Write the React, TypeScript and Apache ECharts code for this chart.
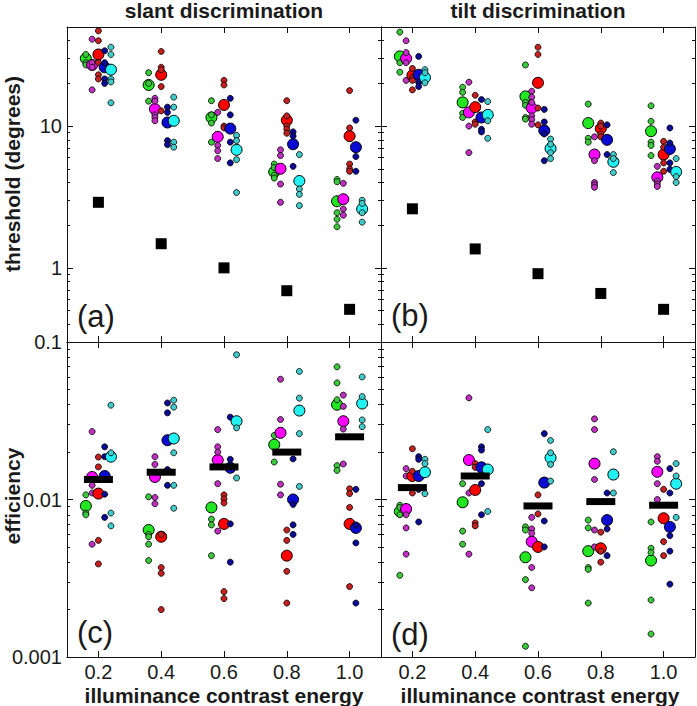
import React, { useEffect, useRef } from "react";
import * as echarts from "echarts";

// ---------- data ----------
const categories = [0.2, 0.4, 0.6, 0.8, 1.0];
const groupNames = ["green", "magenta", "red", "blue", "cyan"];

// (a) slant discrimination thresholds (degrees)
const slantThrGreenMean = [30, 19.5, 11.5, 4.75, 2.95];
const slantThrGreenObs = [[32, 28, 27], [23.8, 20, 15], [15.1, 12, 10.5, 7.7], [5.4, 5.1, 4.5, 4.3], [4.2, 4.05, 2.45, 2.2, 1.95]];
const slantThrMagentaMean = [27, 13.2, 8.4, 5.0, 3.05];
const slantThrMagentaObs = [[41, 28, 26, 18], [15.7, 15, 12, 11.5, 10.9], [12.5, 7.3, 6.7, 5.9], [6.8, 6.2, 3.9, 2.9], [3.95, 2.6, 2.35]];
const slantThrRedMean = [32, 23, 14.1, 11, 8.5];
const slantThrRedObs = [[47, 40, 28, 23, 21.5], [33.6, 26, 25, 19, 12.8], [21, 19.5, 10, 9.7], [15.1, 11.8, 10, 9.5, 8.9], [17.8, 9.7, 5.4, 5.0, 4.8]];
const slantThrBlueMean = [26, 10.6, 9.6, 7.45, 7.1];
const slantThrBlueObs = [[34, 28, 21.5, 20], [13.6, 12.5, 7.9, 7.4], [15.7, 12, 7.7, 5.5], [9.1, 8.5, 5.2], [11, 6.1, 4.8]];
const slantThrCyanMean = [25, 10.9, 6.8, 4.1, 2.6];
const slantThrCyanObs = [[36, 32, 21.5, 20.5, 14.6], [16, 13.6, 7.7, 7.1], [8.6, 7.9, 5.8, 3.4], [6.3, 3.6, 3.3, 2.75], [3.0, 2.85, 2.45, 2.1]];
const slantThrIdeal = [2.9, 1.48, 1.0, 0.69, 0.51];

// (b) tilt discrimination thresholds (degrees)
const tiltThrGreenMean = [31, 14.7, 16.2, 10.5, 9.2];
const tiltThrGreenObs = [[46, 28, 24], [18.8, 17.3, 12.3, 11.5], [27, 14.7, 14, 11.5, 11.2], [14.3, 8.2, 7.7], [13.9, 10.8, 7.7, 7.3, 6.2]];
const tiltThrMagentaMean = [30, 12.5, 13.4, 6.3, 4.35];
const tiltThrMagentaObs = [[40, 33, 28, 21], [20.4, 10, 6.5], [17.6, 16, 14.7, 11.8, 11.1, 10.3], [8.4, 5.7, 4.0, 3.85, 3.7], [5.2, 4.1, 3.9, 3.75]];
const tiltThrRedMean = [22.8, 13.6, 20.2, 9.6, 6.3];
const tiltThrRedObs = [[25.5, 22, 21, 18], [16.5, 10.7, 10.3], [36, 32, 13.4, 10.2], [10.5, 10, 8.8, 8.4], [7.8, 7.1, 5.5, 4.8]];
const tiltThrBlueMean = [23, 11.5, 9.3, 8.0, 6.9];
const tiltThrBlueObs = [[31, 20.3, 19], [15.4, 9.5, 9.1], [13.1, 10.7, 8.8, 5.7], [10.2, 6.3], [9.7, 7.6, 5.5, 4.95]];
const tiltThrCyanMean = [22, 12, 6.95, 5.6, 4.75];
const tiltThrCyanObs = [[25, 23.8, 20.2], [14.9, 10.9, 8.2], [8.1, 7.45, 6.5, 5.9], [6.3, 5.9, 4.7], [5.9, 4.4, 4.0]];
const tiltThrIdeal = [2.61, 1.36, 0.91, 0.66, 0.51];

// (c) slant efficiency
const slantEffGreenMean = [0.0091, 0.0064, 0.0089, 0.0223, 0.04];
const slantEffGreenObs = [[0.0107, 0.0082, 0.008], [0.0104, 0.006, 0.0058, 0.0052, 0.0041], [0.0075, 0.0069, 0.0044], [0.0255, 0.0173], [0.0696, 0.055, 0.043, 0.0164, 0.0153]];
const slantEffMagentaMean = [0.0139, 0.0139, 0.0178, 0.0265, 0.0314];
const slantEffMagentaObs = [[0.027, 0.0123, 0.011, 0.0052], [0.0187, 0.0167, 0.0103, 0.0094], [0.0278, 0.0216, 0.02, 0.0126, 0.0063], [0.058, 0.0322, 0.0125, 0.0107], [0.046, 0.039, 0.028, 0.0168]];
const slantEffRedMean = [0.0109, 0.0058, 0.007, 0.0044, 0.007];
const slantEffRedObs = [[0.0186, 0.0161, 0.0055, 0.0039], [0.006, 0.0037, 0.0034, 0.002], [0.0107, 0.0101, 0.0095, 0.0026, 0.00235], [0.0064, 0.0055, 0.0035, 0.0022], [0.0117, 0.0109, 0.0089, 0.0028]];
const slantEffBlueMean = [0.0141, 0.0238, 0.0159, 0.01, 0.0066];
const slantEffBlueObs = [[0.0216, 0.0187, 0.0108, 0.0077], [0.041, 0.0355, 0.0155, 0.0123], [0.0333, 0.018, 0.007, 0.004], [0.0181, 0.0093, 0.0069, 0.006], [0.0116, 0.0069, 0.0053, 0.0022]];
const slantEffCyanMean = [0.0187, 0.0244, 0.0314, 0.0367, 0.0407];
const slantEffCyanObs = [[0.0397, 0.0198, 0.0082, 0.0068], [0.0427, 0.0386, 0.0198, 0.0123, 0.0088], [0.083, 0.0285, 0.0137], [0.065, 0.044, 0.0262, 0.0121], [0.06, 0.045, 0.032, 0.029]];
const slantEffAverage = [0.0134, 0.0149, 0.0161, 0.02, 0.025];

// (d) tilt efficiency
const tiltEffGreenMean = [0.0084, 0.0096, 0.0043, 0.0047, 0.0041];
const tiltEffGreenObs = [[0.0092, 0.0089, 0.008, 0.0033], [0.0126, 0.0063, 0.0052], [0.0067, 0.0064, 0.0031, 0.00117], [0.0074, 0.0066, 0.0037, 0.0036, 0.0022], [0.0072, 0.0049, 0.0046, 0.0023, 0.0014]];
const tiltEffMagentaMean = [0.0087, 0.0178, 0.0054, 0.0169, 0.015];
const tiltEffMagentaObs = [[0.0157, 0.0141, 0.008, 0.0066, 0.0045], [0.0442, 0.011, 0.0045], [0.0077, 0.0065, 0.0061, 0.0037, 0.00275], [0.0325, 0.0278, 0.0134, 0.0064, 0.005], [0.0187, 0.0175, 0.0126, 0.01]];
const tiltEffRedMean = [0.0141, 0.0115, 0.005, 0.0049, 0.0076];
const tiltEffRedObs = [[0.021, 0.0151, 0.011], [0.0169, 0.016, 0.0071, 0.0068], [0.0107, 0.0081], [0.0062, 0.0047, 0.004], [0.0116, 0.0054, 0.0044]];
const tiltEffBlueMean = [0.0141, 0.016, 0.0128, 0.0074, 0.0067];
const tiltEffBlueObs = [[0.0187, 0.018, 0.0116, 0.0072], [0.0216, 0.0206, 0.0126, 0.008], [0.0262, 0.0073, 0.005], [0.011, 0.0065, 0.0044], [0.0157, 0.011, 0.0059, 0.0047, 0.0029]];
const tiltEffCyanMean = [0.0149, 0.0155, 0.0184, 0.0144, 0.0126];
const tiltEffCyanObs = [[0.018, 0.0169, 0.0109], [0.0278, 0.0084], [0.0237, 0.0198, 0.0167, 0.0131], [0.0201, 0.011], [0.0169, 0.0141, 0.0077]];
const tiltEffAverage = [0.0119, 0.0141, 0.0091, 0.0097, 0.0092];

// axis ticks
const thrMajorTicks = [1, 10];
const thrMinorTicks = [0.3, 0.4, 0.5, 0.6, 0.7, 0.8, 0.9, 2, 3, 4, 5, 6, 7, 8, 9, 20, 30, 40];
const effMajorTicks = [0.001, 0.01, 0.1];
const effMinorTicks = [0.002, 0.003, 0.004, 0.005, 0.006, 0.007, 0.008, 0.009, 0.02, 0.03, 0.04, 0.05, 0.06, 0.07, 0.08, 0.09];

// ---------- styling ----------
const FONT = "'Liberation Sans', Arial, Helvetica, sans-serif";
const groupOffsets = [-0.04, -0.02, 0, 0.02, 0.04];
const bigColors = ["#22e622", "#ff00ff", "#ff0000", "#0a0ad2", "#22f2f2"];
const smallColors = ["#3cc83c", "#c030c0", "#c42020", "#0a0a96", "#40caca"];

const panels = [
  {
    means: [slantThrGreenMean, slantThrMagentaMean, slantThrRedMean, slantThrBlueMean, slantThrCyanMean],
    obs: [slantThrGreenObs, slantThrMagentaObs, slantThrRedObs, slantThrBlueObs, slantThrCyanObs],
    ref: slantThrIdeal, refKind: "square", min: 0.3, max: 50, major: thrMajorTicks, minor: thrMinorTicks,
    yLabels: true, xLabels: false,
  },
  {
    means: [tiltThrGreenMean, tiltThrMagentaMean, tiltThrRedMean, tiltThrBlueMean, tiltThrCyanMean],
    obs: [tiltThrGreenObs, tiltThrMagentaObs, tiltThrRedObs, tiltThrBlueObs, tiltThrCyanObs],
    ref: tiltThrIdeal, refKind: "square", min: 0.3, max: 50, major: thrMajorTicks, minor: thrMinorTicks,
    yLabels: false, xLabels: false,
  },
  {
    means: [slantEffGreenMean, slantEffMagentaMean, slantEffRedMean, slantEffBlueMean, slantEffCyanMean],
    obs: [slantEffGreenObs, slantEffMagentaObs, slantEffRedObs, slantEffBlueObs, slantEffCyanObs],
    ref: slantEffAverage, refKind: "bar", min: 0.001, max: 0.1, major: effMajorTicks, minor: effMinorTicks,
    yLabels: true, xLabels: true,
  },
  {
    means: [tiltEffGreenMean, tiltEffMagentaMean, tiltEffRedMean, tiltEffBlueMean, tiltEffCyanMean],
    obs: [tiltEffGreenObs, tiltEffMagentaObs, tiltEffRedObs, tiltEffBlueObs, tiltEffCyanObs],
    ref: tiltEffAverage, refKind: "bar", min: 0.001, max: 0.1, major: effMajorTicks, minor: effMinorTicks,
    yLabels: false, xLabels: true,
  },
];

const grids = [
  { left: 67, top: 27, width: 314, height: 315 },
  { left: 381, top: 27, width: 314, height: 315 },
  { left: 67, top: 342, width: 314, height: 315 },
  { left: 381, top: 342, width: 314, height: 315 },
];

const lineStyle = { color: "#111", width: 1 };

function buildOption() {
  const xAxis: any[] = [];
  const yAxis: any[] = [];
  const series: any[] = [];

  panels.forEach((p, g) => {
    const xBase = {
      gridIndex: g, type: "value", min: 0.1, max: 1.1, splitLine: { show: false },
    };
    xAxis.push({
      ...xBase, position: "bottom",
      axisLine: { show: true, onZero: false, lineStyle },
      axisTick: { show: true, inside: true, length: 6, customValues: categories, lineStyle },
      axisLabel: {
        show: p.xLabels, customValues: categories, margin: 5, fontSize: 20, fontFamily: FONT, color: "#1a1a1a",
        formatter: (v: number) => Number(v).toFixed(1),
      },
    });
    xAxis.push({
      ...xBase, position: "top",
      axisLine: { show: true, onZero: false, lineStyle },
      axisTick: { show: true, inside: true, length: 6, customValues: categories, lineStyle },
      axisLabel: { show: false },
    });

    const yBase = {
      gridIndex: g, type: "log", logBase: 10, min: p.min, max: p.max, splitLine: { show: false },
    };
    yAxis.push({
      ...yBase, position: "left",
      axisLine: { show: true, onZero: false, lineStyle },
      axisTick: { show: true, inside: true, length: 6, customValues: p.major, lineStyle },
      axisLabel: {
        show: p.yLabels, customValues: p.major, margin: 5, fontSize: 20, fontFamily: FONT, color: "#1a1a1a",
        showMinLabel: true, showMaxLabel: true, formatter: (v: number) => String(v),
      },
    });
    yAxis.push({
      ...yBase, position: "left",
      axisLine: { show: false, onZero: false },
      axisTick: { show: true, inside: true, length: 3, customValues: p.minor, lineStyle },
      axisLabel: { show: false },
    });
    yAxis.push({
      ...yBase, position: "right",
      axisLine: { show: true, onZero: false, lineStyle },
      axisTick: { show: true, inside: true, length: 6, customValues: p.major, lineStyle },
      axisLabel: { show: false },
    });
    yAxis.push({
      ...yBase, position: "right",
      axisLine: { show: false, onZero: false },
      axisTick: { show: true, inside: true, length: 3, customValues: p.minor, lineStyle },
      axisLabel: { show: false },
    });

    const xi = g * 2;
    const yi = g * 4;
    groupNames.forEach((name, c) => {
      series.push({
        name: `${name}-mean-${g}`, type: "scatter", xAxisIndex: xi, yAxisIndex: yi,
        symbol: "circle", symbolSize: 11,
        itemStyle: { color: bigColors[c], borderColor: "#000", borderWidth: 1, opacity: 1 },
        data: categories.map((cat, i) => [cat + groupOffsets[c], p.means[c][i]]),
      });
      const obsData: number[][] = [];
      categories.forEach((cat, i) => {
        p.obs[c][i].forEach((v) => obsData.push([cat + groupOffsets[c], v]));
      });
      series.push({
        name: `${name}-obs-${g}`, type: "scatter", xAxisIndex: xi, yAxisIndex: yi,
        symbol: "circle", symbolSize: 6,
        itemStyle: { color: smallColors[c], borderColor: "#000", borderWidth: 0.8, opacity: 1 },
        data: obsData,
      });
    });
    series.push({
      name: `ref-${g}`, type: "scatter", xAxisIndex: xi, yAxisIndex: yi,
      symbol: "rect", symbolSize: p.refKind === "square" ? 11 : [29, 7],
      itemStyle: { color: "#000", opacity: 1 },
      data: categories.map((cat, i) => [cat, p.ref[i]]),
    });
  });

  const txt = (text: string, x: number, y: number, size: number, weight: string, align = "center", rotation = 0) => ({
    type: "text", x, y, rotation,
    style: { text, fontSize: size, fontWeight: weight, fontFamily: FONT, fill: "#1a1a1a", align, verticalAlign: "middle" },
  });

  const graphic = [
    txt("slant discrimination", 224, 10, 21, "bold"),
    txt("tilt discrimination", 538, 10, 21, "bold"),
    txt("threshold (degrees)", 12, 174, 21, "bold", "center", Math.PI / 2),
    txt("efficiency", 12, 496, 21, "bold", "center", Math.PI / 2),
    txt("illuminance contrast energy", 224, 695, 21, "bold"),
    txt("illuminance contrast energy", 540, 695, 21, "bold"),
    txt("(a)", 77, 316, 31, "normal", "left"),
    txt("(b)", 391, 315, 31, "normal", "left"),
    txt("(c)", 77, 632, 31, "normal", "left"),
    txt("(d)", 391, 634, 31, "normal", "left"),
  ];

  return {
    animation: false,
    backgroundColor: "#fff",
    grid: grids,
    xAxis,
    yAxis,
    series,
    graphic,
  };
}

export default function App() {
  const ref = useRef<HTMLDivElement>(null);
  useEffect(() => {
    document.body.style.margin = "0";
    if (!ref.current) return;
    const chart = echarts.init(ref.current, undefined, { renderer: "svg" });
    chart.setOption(buildOption() as any);
    return () => chart.dispose();
  }, []);
  return <div ref={ref} style={{ width: 697, height: 706 }} />;
}
